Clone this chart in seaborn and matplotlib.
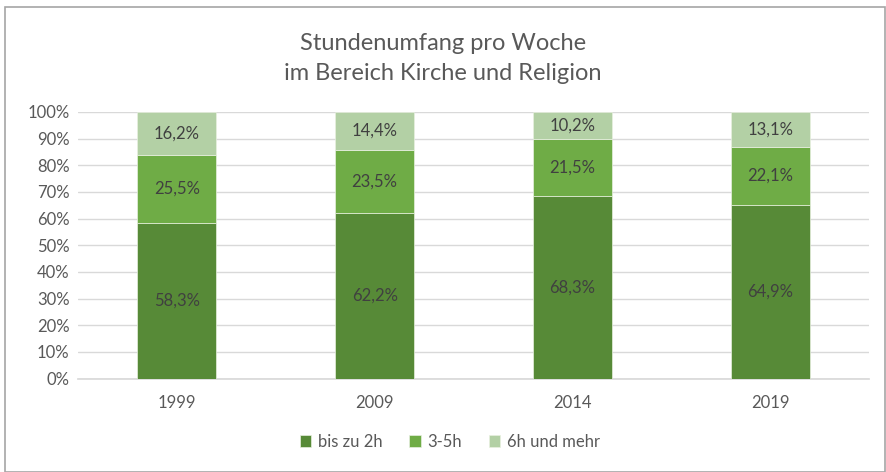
import matplotlib
matplotlib.use("Agg")
import matplotlib.pyplot as plt
from matplotlib.patches import Rectangle
from matplotlib.ticker import PercentFormatter
import pandas as pd
import seaborn as sns

years = ["1999", "2009", "2014", "2019"]
bis_2h = [58.3, 62.2, 68.3, 64.9]
h3_5 = [25.5, 23.5, 21.5, 22.1]
h6_mehr = [16.2, 14.4, 10.2, 13.1]
series_names = ["bis zu 2h", "3-5h", "6h und mehr"]
colors = ["#578A37", "#6FAC46", "#B3D0A5"]

sns.set_theme(style="white")
plt.rcParams["font.family"] = ["Lato", "DejaVu Sans"]

fig = plt.figure(figsize=(8.86, 4.72), dpi=100)
fig.patches.append(Rectangle((0.006, 0.0), 0.993, 0.985, transform=fig.transFigure,
                             fill=False, edgecolor="#A6A6A6", linewidth=1.2))
ax = fig.add_axes([0.088, 0.198, 0.893, 0.565])

df = pd.DataFrame({"Jahr": years, series_names[0]: bis_2h,
                   series_names[1]: h3_5, series_names[2]: h6_mehr})

bottom = [0.0] * len(years)
for name, col in zip(series_names, colors):
    vals = list(df[name])
    bars = ax.bar(df["Jahr"], vals, bottom=bottom, width=0.4, color=col,
                  edgecolor="#E8F0E0", linewidth=0.5, label=name, zorder=3)
    labels = [f"{v:.1f}%".replace(".", ",") for v in vals]
    ax.bar_label(bars, labels=labels, label_type="center", color="#404040", fontsize=12)
    bottom = [b + v for b, v in zip(bottom, vals)]

ax.set_ylim(0, 100)
ax.set_xlim(-0.5, 3.5)
ax.set_yticks(range(0, 101, 10))
ax.yaxis.set_major_formatter(PercentFormatter(decimals=0))
ax.grid(axis="y", color="#D9D9D9", linewidth=1, zorder=0)
for s in ["top", "right", "left"]:
    ax.spines[s].set_visible(False)
ax.spines["bottom"].set_color("#D9D9D9")
ax.tick_params(axis="both", length=0, labelsize=12, labelcolor="#595959", pad=6)
ax.tick_params(axis="x", pad=12)
ax.set_xlabel("")
ax.set_ylabel("")

fig.suptitle("Stundenumfang pro Woche\nim Bereich Kirche und Religion",
             y=0.93, fontsize=17, color="#595959", linespacing=1.5)

ax.legend(loc="upper center", bbox_to_anchor=(0.47, -0.15), ncol=3, frameon=False,
          fontsize=12, labelcolor="#595959", handlelength=0.7, handleheight=0.7,
          handletextpad=0.4, columnspacing=1.6)

fig.savefig("out.png", dpi=100)
